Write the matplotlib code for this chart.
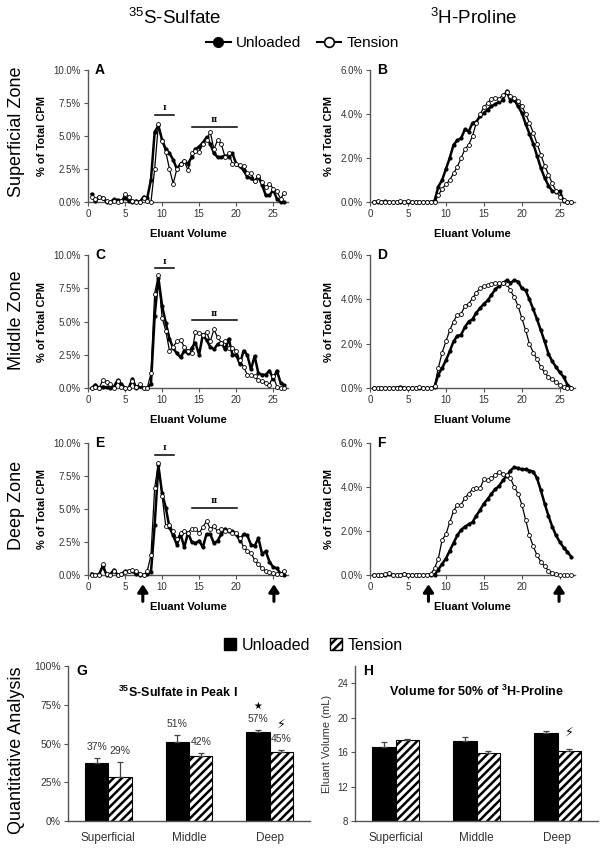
import numpy as np
import matplotlib
matplotlib.use("Agg")
from matplotlib import pyplot as plt
from matplotlib.lines import Line2D
from matplotlib.patches import Patch
from matplotlib.ticker import FuncFormatter

plt.rcParams['font.family'] = ['Liberation Sans', 'DejaVu Sans']
plt.rcParams['mathtext.fontset'] = 'custom'
plt.rcParams['mathtext.rm'] = 'Liberation Sans'
plt.rcParams['mathtext.bf'] = 'Liberation Sans:bold'
plt.rcParams['mathtext.default'] = 'regular'
plt.rcParams['hatch.linewidth'] = 1.8

# eluant volume of each fraction (mL)
volume = [0.5, 1.0, 1.5, 2.0, 2.5, 3.0, 3.5, 4.0, 4.5, 5.0, 5.5, 6.0, 6.5, 7.0, 7.5, 8.0, 8.5,
          9.0, 9.5, 10.0, 10.5, 11.0, 11.5, 12.0, 12.5, 13.0, 13.5, 14.0, 14.5, 15.0, 15.5, 16.0,
          16.5, 17.0, 17.5, 18.0, 18.5, 19.0, 19.5, 20.0, 20.5, 21.0, 21.5, 22.0, 22.5, 23.0,
          23.5, 24.0, 24.5, 25.0, 25.5, 26.0, 26.5]

# 35S-sulfate profiles (% of total CPM)
sulf_sup_unl = [0.6, 0.05, 0.35, 0.3, 0.0, 0.0, 0.2, 0.15, 0.05, 0.3, 0.1, 0.0, 0.1, 0.0, 0.4, 0.3, 1.7,
                5.3, 5.8, 4.7, 4.0, 3.7, 3.2, 2.5, 2.9, 3.1, 2.9, 3.4, 4.0, 4.2, 4.5, 4.9,
                4.4, 3.7, 3.4, 3.4, 3.5, 3.4, 3.7, 2.9, 2.7, 2.4, 1.9, 1.8, 1.6, 1.9,
                1.3, 0.5, 0.5, 0.9, 0.25, 0.0, 0.0]
sulf_sup_ten = [0.4, 0.2, 0.4, 0.3, 0.1, 0.0, 0.1, 0.0, 0.1, 0.6, 0.4, 0.1, 0.0, 0.0, 0.3, 0.1, 0.0,
                2.5, 5.9, 4.6, 3.8, 2.5, 1.4, 2.5, 2.9, 3.1, 2.4, 3.7, 3.9, 3.8, 4.4, 4.7,
                5.3, 4.0, 4.7, 4.4, 3.4, 3.7, 2.9, 2.9, 2.8, 2.7, 2.2, 2.2, 1.6, 2.0,
                1.5, 1.1, 1.4, 1.0, 0.8, 0.25, 0.7]
sulf_mid_unl = [0.0, 0.25, 0.0, 0.1, 0.05, 0.0, 0.1, 0.6, 0.3, 0.0, 0.0, 0.7, 0.0, 0.15, 0.0, 0.0, 0.3,
                5.4, 8.3, 6.2, 4.9, 3.7, 3.0, 2.6, 2.3, 2.8, 2.6, 3.0, 3.4, 2.5, 4.0, 3.6,
                3.1, 2.9, 3.3, 3.4, 2.9, 3.7, 2.5, 2.5, 1.8, 2.8, 2.5, 1.4, 2.4, 1.1,
                1.0, 1.0, 1.3, 0.7, 1.3, 0.4, 0.2]
sulf_mid_ten = [0.0, 0.1, 0.0, 0.6, 0.45, 0.3, 0.0, 0.5, 0.1, 0.0, 0.0, 0.5, 0.1, 0.3, 0.0, 0.0, 1.1,
                7.1, 8.5, 5.3, 4.3, 2.8, 3.1, 3.5, 3.6, 3.1, 2.8, 2.6, 4.2, 4.1, 4.0, 4.2,
                3.5, 4.4, 3.8, 3.4, 3.5, 3.0, 3.0, 2.8, 2.1, 1.6, 1.0, 1.0, 0.9, 0.6,
                0.5, 0.4, 0.25, 0.9, 0.1, 0.0, 0.0]
sulf_deep_unl = [0.1, 0.0, 0.05, 0.7, 0.0, 0.05, 0.4, 0.0, 0.05, 0.3, 0.3, 0.3, 0.05, 0.0, 0.0, 0.1, 0.2,
                 3.8, 8.3, 6.2, 5.1, 3.6, 3.0, 2.3, 3.1, 2.1, 3.2, 2.5, 2.4, 2.6, 2.1, 3.1,
                 3.1, 2.4, 2.6, 3.1, 3.5, 3.3, 3.3, 3.1, 2.6, 3.1, 3.0, 2.3, 2.2, 2.8,
                 1.6, 1.8, 1.0, 0.6, 0.5, 0.1, 0.0]
sulf_deep_ten = [0.0, 0.0, 0.0, 0.8, 0.1, 0.0, 0.3, 0.0, 0.1, 0.2, 0.3, 0.4, 0.3, 0.1, 0.0, 0.3, 1.5,
                 6.6, 8.5, 6.0, 3.7, 3.8, 3.3, 2.7, 3.2, 3.3, 3.2, 3.5, 3.5, 3.2, 3.6, 4.1,
                 3.5, 3.7, 3.3, 3.5, 3.3, 3.4, 3.2, 3.2, 2.8, 2.1, 1.8, 1.7, 1.1, 0.8,
                 0.5, 0.3, 0.2, 0.15, 0.05, 0.05, 0.3]

# 3H-proline profiles (% of total CPM)
prol_sup_unl = [0.0, 0.0, 0.0, 0.03, 0.0, 0.0, 0.0, 0.0, 0.0, 0.0, 0.0, 0.0, 0.0, 0.0, 0.0, 0.0, 0.05,
                0.7, 1.0, 1.5, 2.0, 2.6, 2.8, 2.9, 3.3, 3.2, 3.6, 3.65, 3.9, 4.05, 4.2, 4.35,
                4.45, 4.55, 4.65, 5.05, 4.6, 4.65, 4.35, 4.05, 3.55, 3.1, 2.65, 2.1, 1.55, 1.1,
                0.75, 0.5, 0.45, 0.5, 0.05, 0.0, 0.0]
prol_sup_ten = [0.0, 0.05, 0.0, 0.0, 0.0, 0.0, 0.0, 0.05, 0.0, 0.05, 0.0, 0.0, 0.0, 0.0, 0.0, 0.0, 0.0,
                0.3, 0.6, 0.8, 1.0, 1.3, 1.6, 2.0, 2.4, 2.6, 3.0, 3.6, 4.0, 4.3, 4.5, 4.7,
                4.75, 4.7, 4.85, 5.0, 4.8, 4.75, 4.6, 4.35, 4.0, 3.6, 3.15, 2.65, 2.15, 1.65,
                1.25, 0.85, 0.5, 0.25, 0.1, 0.0, 0.0]
prol_mid_unl = [0.0, 0.0, 0.0, 0.0, 0.0, 0.0, 0.02, 0.05, 0.0, 0.0, 0.0, 0.0, 0.0, 0.0, 0.0, 0.0, 0.05,
                0.6, 0.9, 1.25, 1.65, 2.1, 2.35, 2.4, 2.75, 3.0, 3.1, 3.4, 3.6, 3.8, 3.95, 4.2,
                4.45, 4.6, 4.75, 4.85, 4.75, 4.85, 4.8, 4.5, 4.4, 4.0, 3.55, 3.1, 2.6, 2.1,
                1.55, 1.2, 0.95, 0.7, 0.5, 0.15, 0.0]
prol_mid_ten = [0.0, 0.0, 0.0, 0.0, 0.0, 0.02, 0.0, 0.0, 0.0, 0.0, 0.0, 0.0, 0.05, 0.0, 0.0, 0.0, 0.1,
                0.9, 1.6, 2.1, 2.6, 3.0, 3.3, 3.35, 3.7, 3.8, 4.05, 4.3, 4.5, 4.6, 4.65, 4.7,
                4.75, 4.75, 4.75, 4.7, 4.4, 4.1, 3.7, 3.15, 2.6, 2.0, 1.6, 1.3, 0.95, 0.7,
                0.5, 0.4, 0.25, 0.15, 0.05, 0.0, 0.0]
prol_deep_unl = [0.0, 0.0, 0.0, 0.0, 0.05, 0.0, 0.0, 0.0, 0.05, 0.0, 0.0, 0.0, 0.0, 0.0, 0.0, 0.0, 0.0,
                 0.25, 0.5, 0.75, 1.1, 1.45, 1.8, 2.05, 2.2, 2.3, 2.4, 2.7, 2.95, 3.25, 3.45, 3.7,
                 3.9, 4.05, 4.3, 4.5, 4.75, 4.9, 4.85, 4.8, 4.8, 4.75, 4.7, 4.4, 3.85, 3.25,
                 2.7, 2.2, 1.8, 1.5, 1.25, 1.05, 0.83]
prol_deep_ten = [0.0, 0.0, 0.0, 0.05, 0.1, 0.0, 0.0, 0.0, 0.05, 0.02, 0.0, 0.02, 0.0, 0.0, 0.0, 0.05, 0.3,
                 0.75, 1.6, 1.85, 2.4, 2.9, 3.2, 3.2, 3.5, 3.7, 3.9, 3.95, 3.95, 4.35, 4.3, 4.4,
                 4.55, 4.7, 4.6, 4.55, 4.4, 4.0, 3.7, 3.2, 2.5, 1.8, 1.3, 0.9, 0.6, 0.4,
                 0.2, 0.1, 0.05, 0.02, 0.0, 0.0, 0.0]

# quantitative analysis
zones = ['Superficial', 'Middle', 'Deep']
peak1_unl = [37.5, 51.0, 57.5]
peak1_unl_err = [3.0, 4.3, 1.2]
peak1_ten = [28.5, 42.0, 44.5]
peak1_ten_err = [9.5, 1.8, 1.3]
peak1_unl_lbl = ['37%', '51%', '57%']
peak1_ten_lbl = ['29%', '42%', '45%']
vol50_unl = [16.65, 17.3, 18.25]
vol50_unl_err = [0.55, 0.5, 0.15]
vol50_ten = [17.35, 15.85, 16.15]
vol50_ten_err = [0.15, 0.3, 0.25]

W, H = 605.0, 852.0
fig = plt.figure(figsize=(W / 100, H / 100), dpi=100)
AXC = '#555555'
TXC = '#333333'


def box(l, t, r, b):
    return [l / W, 1 - b / H, (r - l) / W, (b - t) / H]


def style(ax):
    for s in ['top', 'right']:
        ax.spines[s].set_visible(False)
    for s in ['left', 'bottom']:
        ax.spines[s].set_color(AXC)
        ax.spines[s].set_linewidth(1.0)
    ax.tick_params(colors=AXC, labelcolor=TXC, length=3, width=0.8, labelsize=7, pad=2)


def profile(ax, unl, ten, ymax, letter, peaks=None, arrows=False):
    ax.plot(volume, unl, '-o', color='k', lw=1.8, ms=2.0, mfc='k', mec='k', clip_on=False, zorder=3)
    ax.plot(volume, ten, '-o', color='k', lw=0.9, ms=2.8, mfc='white', mec='k', mew=0.6,
            clip_on=False, zorder=4)
    ax.set_xlim(0, 27)
    ax.set_ylim(0, ymax)
    ax.set_xticks([0, 5, 10, 15, 20, 25])
    if ymax > 8:
        ax.set_yticks([0, 2.5, 5, 7.5, 10])
    else:
        ax.set_yticks([0, 2, 4, 6])
    ax.yaxis.set_major_formatter(FuncFormatter(lambda v, p: '%.1f%%' % v))
    style(ax)
    ax.set_ylabel('% of Total CPM', fontsize=8, fontweight='bold', labelpad=5)
    ax.set_xlabel('Eluant Volume', fontsize=8, fontweight='bold', labelpad=7)
    ax.text(0.035, 1.0, letter, transform=ax.transAxes, fontsize=10, fontweight='bold',
            va='center', ha='left')
    if peaks:
        for (x0, x1, y), name in zip(peaks, ['I', 'II']):
            ax.plot([x0, x1], [y, y], color='k', lw=1.1)
            ax.text((x0 + x1) / 2, y + ymax * 0.02, name, fontsize=5.5, ha='center',
                    va='bottom', family='DejaVu Serif', fontweight='bold')
    if arrows:
        ax.set_xticklabels(['0', '5', '10', '15', '20', ''])
        for xa in arrows:
            ax.annotate('', xy=(xa, -0.07), xytext=(xa, -0.2),
                        xycoords=('data', 'axes fraction'),
                        arrowprops=dict(arrowstyle='-|>,head_width=0.3,head_length=0.45',
                                        lw=2.2, color='k', shrinkA=0, shrinkB=0))


axA = fig.add_axes(box(88, 70, 288, 202))
axB = fig.add_axes(box(370, 70, 575, 202))
axC = fig.add_axes(box(88, 255, 288, 388))
axD = fig.add_axes(box(370, 255, 575, 388))
axE = fig.add_axes(box(88, 443, 288, 575))
axF = fig.add_axes(box(370, 443, 575, 575))

profile(axA, sulf_sup_unl, sulf_sup_ten, 10, 'A', peaks=[(9, 11.6, 6.6), (14, 20.1, 5.7)])
profile(axB, prol_sup_unl, prol_sup_ten, 6, 'B')
profile(axC, sulf_mid_unl, sulf_mid_ten, 10, 'C', peaks=[(9, 11.6, 9.0), (14, 20.1, 5.1)])
profile(axD, prol_mid_unl, prol_mid_ten, 6, 'D')
profile(axE, sulf_deep_unl, sulf_deep_ten, 10, 'E', peaks=[(9, 11.6, 9.1), (14, 20.1, 5.1)],
        arrows=[7.4, 25.1])
profile(axF, prol_deep_unl, prol_deep_ten, 6, 'F', arrows=[7.7, 24.9])

# column titles, row labels, legend
fig.text(175 / W, 1 - 18 / H, r'$^{35}$S-Sulfate', fontsize=13.5, ha='center', va='center')
fig.text(474 / W, 1 - 18 / H, r'$^{3}$H-Proline', fontsize=13.5, ha='center', va='center')
for lab, yc in [('Superficial Zone', 132), ('Middle Zone', 320), ('Deep Zone', 505),
                ('Quantitative Analysis', 750)]:
    fig.text(17 / W, 1 - yc / H, lab, fontsize=13, rotation=90, ha='center', va='center')

h1 = [Line2D([], [], color='k', lw=1.5, marker='o', ms=7, mfc='k'),
      Line2D([], [], color='k', lw=1.5, marker='o', ms=7, mfc='white', mew=1.2)]
fig.legend(h1, ['Unloaded', 'Tension'], loc='center', bbox_to_anchor=(0.5, 1 - 43 / H), ncol=2,
           frameon=False, fontsize=11, handlelength=1.6, handletextpad=0.35, columnspacing=1.0)

h2 = [Patch(facecolor='k', edgecolor='k'),
      Patch(facecolor='white', edgecolor='k', hatch='////')]
fig.legend(h2, ['Unloaded', 'Tension'], loc='center', bbox_to_anchor=(0.518, 1 - 645 / H),
           ncol=2, frameon=False, fontsize=11.5, handlelength=0.8, handleheight=0.8,
           handletextpad=0.35, columnspacing=1.2)

# bar panels
axG = fig.add_axes(box(68, 666, 310, 821))
axH = fig.add_axes(box(355, 666, 598, 821))
xpos = np.arange(len(zones))
bw = 0.29

for ax, unl, ue, ten, te in [(axG, peak1_unl, peak1_unl_err, peak1_ten, peak1_ten_err),
                             (axH, vol50_unl, vol50_unl_err, vol50_ten, vol50_ten_err)]:
    base = 0 if ax is axG else 8
    ax.bar(xpos - bw / 2, np.array(unl) - base, bw, bottom=base, color='k', edgecolor='k', lw=0.8)
    ax.bar(xpos + bw / 2, np.array(ten) - base, bw, bottom=base, color='white', edgecolor='k',
           lw=0.8, hatch='////')
    ax.errorbar(xpos - bw / 2, unl, yerr=[[0] * 3, ue], fmt='none', ecolor='#444444',
                elinewidth=0.9, capsize=2.5, capthick=0.9)
    ax.errorbar(xpos + bw / 2, ten, yerr=[[0] * 3, te], fmt='none', ecolor='#444444',
                elinewidth=0.9, capsize=2.5, capthick=0.9)
    ax.set_xlim(-0.5, 2.5)
    ax.set_xticks(xpos)
    ax.set_xticklabels(zones, fontsize=8.5)
    style(ax)
    ax.tick_params(axis='x', length=0, pad=8, labelsize=8.5)

axG.set_ylim(0, 100)
axG.set_yticks([0, 25, 50, 75, 100])
axG.yaxis.set_major_formatter(FuncFormatter(lambda v, p: '%d%%' % v))
axG.tick_params(axis='y', labelsize=7.5)
for i in range(3):
    axG.text(xpos[i] - bw / 2, peak1_unl[i] + peak1_unl_err[i] + 4, peak1_unl_lbl[i],
             fontsize=7.5, ha='center', va='bottom', color=TXC)
    axG.text(xpos[i] + bw / 2, peak1_ten[i] + peak1_ten_err[i] + 4, peak1_ten_lbl[i],
             fontsize=7.5, ha='center', va='bottom', color=TXC)
axG.text(xpos[2] - bw / 2, 71, '\u2605', fontsize=7, ha='center', va='bottom',
         family='DejaVu Sans')
axG.text(xpos[2] + bw / 2, 58, '\u26a1', fontsize=9, ha='center', va='bottom',
         family='DejaVu Sans')
axG.text(0.035, 0.97, 'G', transform=axG.transAxes, fontsize=10, fontweight='bold',
         va='center', ha='left')
axG.text(0.455, 0.832, r'$^{\mathbf{35}}$S-Sulfate in Peak I', transform=axG.transAxes,
         fontsize=9, fontweight='bold', ha='center', va='center')

axH.set_ylim(8, 26)
axH.set_yticks([8, 12, 16, 20, 24])
axH.set_ylabel('Eluant Volume (mL)', fontsize=8, color=TXC, labelpad=4)
axH.text(xpos[2] + bw / 2, 17.6, '\u26a1', fontsize=9, ha='center', va='bottom',
         family='DejaVu Sans')
axH.text(0.035, 0.97, 'H', transform=axH.transAxes, fontsize=10, fontweight='bold',
         va='center', ha='left')
axH.text(0.5, 0.835, r'Volume for 50% of $^{\mathbf{3}}$H-Proline', transform=axH.transAxes,
         fontsize=9, fontweight='bold', ha='center', va='center')

fig.savefig('out.png', dpi=100)
